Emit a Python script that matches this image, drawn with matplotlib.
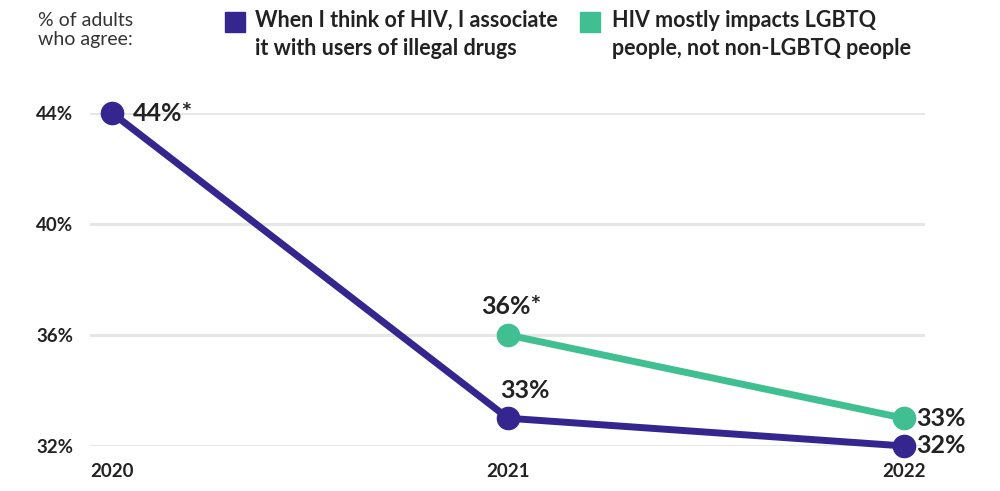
import matplotlib.pyplot as plt
import matplotlib.patches as mpatches

years = [2020, 2021, 2022]
drugs_vals = [44, 33, 32]
lgbtq_years = [2021, 2022]
lgbtq_vals = [36, 33]
drugs_labels = ['44%*', '33%', '32%']
lgbtq_labels = ['36%*', '33%']
yticks = [32, 36, 40, 44]
legend_labels = ['When I think of HIV, I associate\nit with users of illegal drugs',
                 'HIV mostly impacts LGBTQ\npeople, not non-LGBTQ people']

PURPLE = '#35268f'
GREEN = '#40bf93'
TXT = '#222222'

plt.rcParams['font.family'] = ['Lato', 'DejaVu Sans']

fig = plt.figure(figsize=(10, 4.91), dpi=100)
ax = fig.add_axes([0.09, 0.0917, 0.835, 0.678])
ax.set_xlim(2019.944, 2022.053)
ax.set_ylim(32, 44)

for y in yticks:
    ax.axhline(y, color='#e6e6e6', lw=2.2, zorder=0)

ax.plot(years, drugs_vals, color=PURPLE, lw=5, marker='o', ms=16, clip_on=False, zorder=3, solid_capstyle='round')
ax.plot(lgbtq_years, lgbtq_vals, color=GREEN, lw=5, marker='o', ms=16, clip_on=False, zorder=3, solid_capstyle='round')

# data labels
lab_kw = dict(textcoords='offset points', fontsize=18, fontweight='bold', color=TXT, annotation_clip=False)
ax.annotate(drugs_labels[0], (years[0], drugs_vals[0]), xytext=(15, 0), ha='left', va='center', **lab_kw)
ax.annotate(drugs_labels[1], (years[1], drugs_vals[1]), xytext=(12, 12), ha='center', va='bottom', **lab_kw)
ax.annotate(drugs_labels[2], (years[2], drugs_vals[2]), xytext=(9, 0), ha='left', va='center', **lab_kw)
ax.annotate(lgbtq_labels[0], (lgbtq_years[0], lgbtq_vals[0]), xytext=(2, 12), ha='center', va='bottom', **lab_kw)
ax.annotate(lgbtq_labels[1], (lgbtq_years[1], lgbtq_vals[1]), xytext=(9, 0), ha='left', va='center', **lab_kw)

ax.set_yticks(yticks)
ax.set_yticklabels([f'{v}%' for v in yticks])
ax.set_xticks(years)
ax.set_xticklabels([str(y) for y in years])
ax.tick_params(axis='both', length=0, labelsize=13.5, labelcolor=TXT)
for t in ax.get_xticklabels() + ax.get_yticklabels():
    t.set_fontweight('bold')
ax.tick_params(axis='y', pad=12)
ax.tick_params(axis='x', pad=12)
for s in ax.spines.values():
    s.set_visible(False)

# header / legend
fig.text(0.038, 0.975, '% of adults\nwho agree:', ha='left', va='top', fontsize=14, color='#333333', linespacing=1.15)
fig.patches.append(mpatches.Rectangle((0.225, 0.935), 0.02, 0.04, transform=fig.transFigure, color=PURPLE))
fig.text(0.255, 0.98, legend_labels[0], ha='left', va='top', fontsize=15.5, fontweight='bold', color=TXT, linespacing=1.45)
fig.patches.append(mpatches.Rectangle((0.58, 0.935), 0.02, 0.04, transform=fig.transFigure, color=GREEN))
fig.text(0.612, 0.98, legend_labels[1], ha='left', va='top', fontsize=15.5, fontweight='bold', color=TXT, linespacing=1.45)

fig.savefig('out.png', dpi=100)
